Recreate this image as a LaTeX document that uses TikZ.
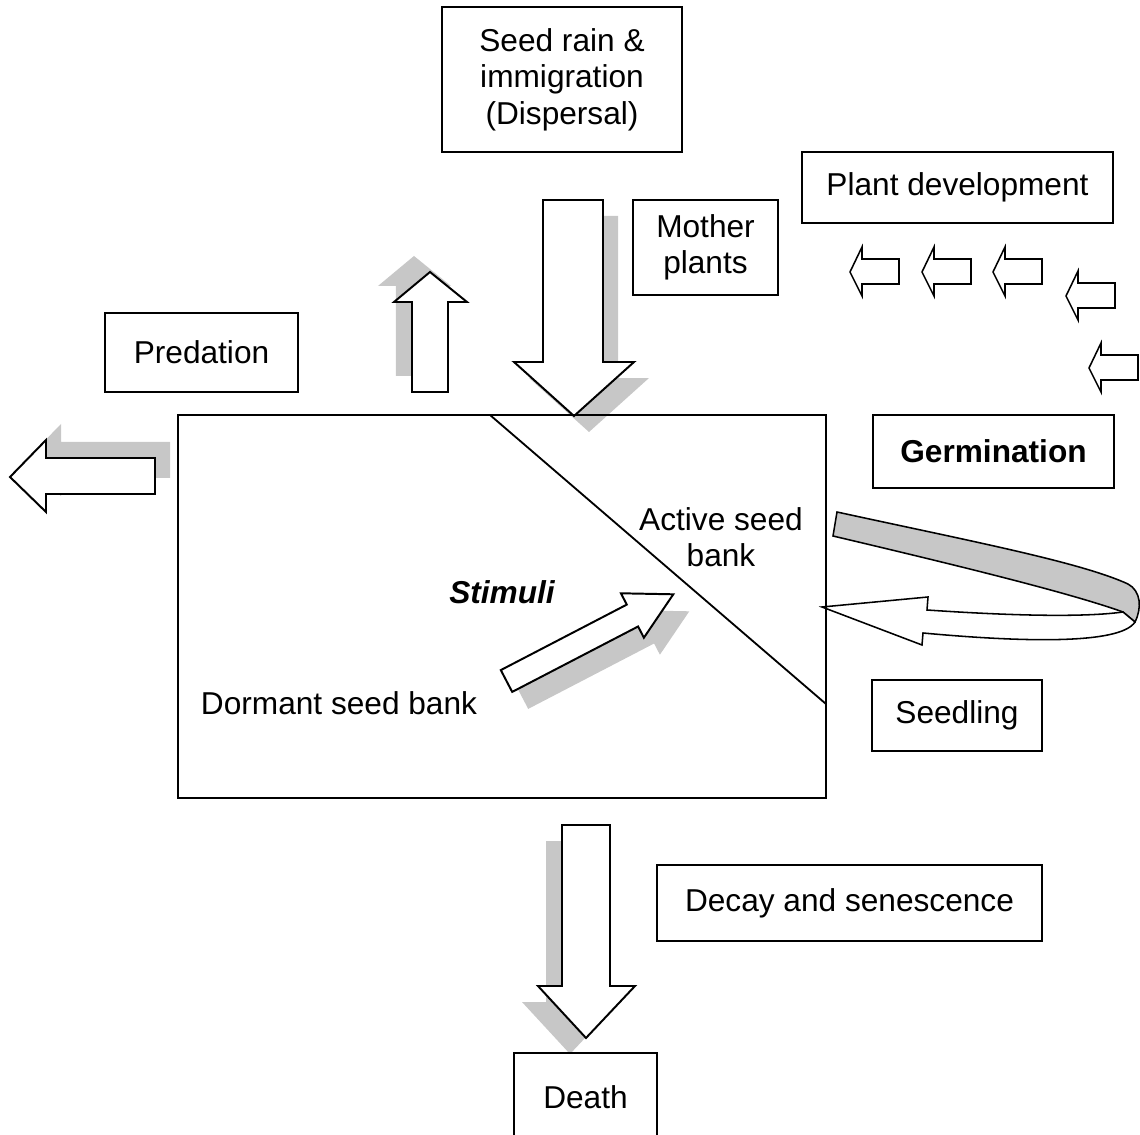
\documentclass[tikz,border=0pt]{standalone}
\usepackage{fontspec}
\setmainfont{Liberation Sans}
\usetikzlibrary{shadows}

\begin{document}
\begin{tikzpicture}
   [x=0.025cm,y=-0.025cm,
    every node/.style={font=\fontsize{22.5}{26}\selectfont},
    box/.style={draw=black,line width=1.4pt,align=center,inner sep=0pt},
    arrowbody/.style={draw=black,fill=white,line width=1.4pt,line join=miter},
    smallarrow/.style={draw=black,fill=white,line width=1.1pt},
    castshadow/.style 2 args={drop shadow={shadow xshift=#1,shadow yshift=#2,fill=black!22,opacity=1}}]
  \useasboundingbox (0,0) rectangle (1140,1135);

  % block arrows with shadows
  \draw[arrowbody,castshadow={0.375cm}{-0.4cm}]
    (543,200) -- (603,200) -- (603,362) -- (634,362) -- (574,416) -- (514,362) -- (543,362) -- cycle;
  \draw[arrowbody,castshadow={-0.4cm}{0.4cm}]
    (412,392) -- (412,302) -- (394,302) -- (430,272) -- (467,302) -- (448,302) -- (448,392) -- cycle;
  \draw[arrowbody,castshadow={0.375cm}{0.4cm}]
    (155,458) -- (46,458) -- (46,440) -- (10,477) -- (46,512) -- (46,494) -- (155,494) -- cycle;
  \draw[arrowbody,castshadow={-0.4cm}{-0.4cm}]
    (562,825) -- (610,825) -- (610,986) -- (635,986) -- (586,1038) -- (538,986) -- (562,986) -- cycle;
  \draw[arrowbody,castshadow={0.4cm}{-0.425cm}]
    (500.8,670.1) -- (626.8,604.6) -- (620.9,593.3) -- (673.3,594.3) -- (643.9,637.7) -- (638.1,626.5) -- (512.2,691.9) -- cycle;

  % plant development arrows
  \foreach \x/\y in {850/272, 922/272, 993/272, 1066/296, 1089/368}
    \draw[smallarrow] (\x,\y) -- (\x+12,\y-25) -- (\x+12,\y-13) -- (\x+49,\y-13)
      -- (\x+49,\y+12) -- (\x+12,\y+12) -- (\x+12,\y+24) -- cycle;

  % germination band and return arrow
  \draw[line width=1.1pt,fill=black!22] (837,512) .. controls (970,541) and (1080,562) .. (1128,584)
    .. controls (1141,591) and (1142,608) .. (1135,622) -- (1123,612)
    .. controls (1070,593) and (960,566) .. (833,536) -- cycle;
  \draw[line width=1.1pt,fill=white] (1123,612) .. controls (1080,618) and (1000,615) .. (927,610)
    -- (928,597) -- (822,607) -- (922,645) -- (923,633)
    .. controls (1020,642) and (1120,645) .. (1135,622) -- cycle;

  % seed bank
  \node[box,minimum width=16.2cm,minimum height=9.575cm] (bank) at (502,606.5) {};
  \coordinate (cut1) at (490,415);
  \coordinate (cut2) at (826,704);
  \draw[line width=1.3pt] (cut1) -- (cut2);

  \node (active) at (721,537) [align=center] {Active seed\\bank};
  \node (stimuli) at (502,592) {\bfseries\itshape Stimuli};
  \node (dormant) at (339,703) {Dormant seed bank};

  % boxes
  \node[box,minimum width=6cm,minimum height=3.625cm] (seedrain) at (562,79.5) {Seed rain \&\\immigration\\(Dispersal)};
  \node[box,minimum width=7.775cm,minimum height=1.775cm] (plantdev) at (957.5,187.5) {Plant development};
  \node[box,minimum width=3.625cm,minimum height=2.375cm] (mother) at (705.5,247.5) {Mother\\plants};
  \node[box,minimum width=4.825cm,minimum height=1.975cm] (predation) at (201.5,352.5) {Predation};
  \node[box,minimum width=6.025cm,minimum height=1.825cm] (germination) at (993.5,451.5) {\bfseries Germination};
  \node[box,minimum width=4.25cm,minimum height=1.775cm] (seedling) at (957,715.5) {Seedling};
  \node[box,minimum width=9.625cm,minimum height=1.9cm] (decay) at (849.5,903) {Decay and senescence};
  \node[box,minimum width=3.575cm,minimum height=2.2cm] (death) at (585.5,1097) {Death};

\end{tikzpicture}
\end{document}
